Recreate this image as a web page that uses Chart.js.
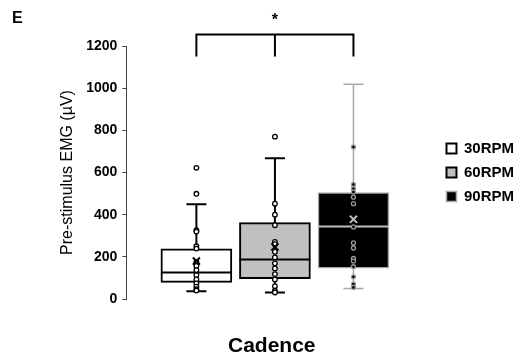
<!DOCTYPE html>
<html>
<head>
<meta charset="utf-8">
<script src="https://cdn.jsdelivr.net/npm/chart.js@4.4.1/dist/chart.umd.min.js"></script>
<style>
  html, body { margin: 0; padding: 0; background: #fff; }
  #wrap { width: 526px; height: 360px; }
</style>
</head>
<body>
<div id="wrap"><canvas id="chart" width="526" height="360"></canvas></div>
<script>
// categories (x positions 1,2,3)
const categories = ['30RPM', '60RPM', '90RPM'];
const catPos = [1, 2, 3];
const xTitle = 'Cadence';

// box plot summary values (µV)
const q1 = [79, 96, 146];
const q3 = [238, 362, 505];
const medians = [126, 187, 344];
const means = [180, 247, 378];
const whiskerMin = [37, 31, 50];
const whiskerMax = [449, 668, 1019];

// individual subjects
const points30 = [622, 499, 326, 320, 250, 239, 176, 157, 137, 113, 93, 74, 58, 46, 40];
const points60 = [770, 452, 400, 350, 271, 260, 224, 197, 169, 145, 118, 93, 61, 39, 31];
const points90 = [721, 543, 523, 507, 483, 452, 342, 266, 242, 192, 180, 153, 105, 71, 55];

// significance bracket
const bracketFrom = 1, bracketMid = 2, bracketTo = 3;
const bracketLow = 1150, bracketHigh = 1255;
const sigLabel = '*';

const yTicks = [0, 200, 400, 600, 800, 1000, 1200];

const boxFill = ['#ffffff', '#c0c0c0', '#000000'];
const boxEdge = ['#000000', '#000000', '#a8a8a8'];
const edgeWidth = [2, 2, 1.5];

Chart.defaults.font.family = "'Liberation Sans', Arial, sans-serif";
Chart.defaults.color = '#000';

const datasets = [];

// boxes
categories.forEach(function(c, i){
    datasets.push({
        type: 'bar',
        label: c,
        data: [{ x: catPos[i], y: [q1[i], q3[i]] }],
        backgroundColor: boxFill[i],
        borderColor: boxEdge[i],
        borderWidth: edgeWidth[i],
        borderSkipped: false,
        barThickness: 71,
        grouped: false,
        order: 5
    });
});

// whiskers
categories.forEach(function(c, i){
    datasets.push({
        type: 'scatter',
        label: 'whisker ' + c,
        data: [{ x: catPos[i], y: whiskerMin[i] }, { x: catPos[i], y: whiskerMax[i] }],
        showLine: true,
        borderColor: boxEdge[i],
        borderWidth: edgeWidth[i],
        pointStyle: 'line',
        pointRadius: 10,
        pointBorderColor: boxEdge[i],
        pointBorderWidth: edgeWidth[i],
        order: 6
    });
});

// medians
categories.forEach(function(c, i){
    datasets.push({
        type: 'scatter',
        label: 'median ' + c,
        data: [{ x: catPos[i], y: medians[i] }],
        pointStyle: 'line',
        pointRadius: 35.5,
        pointBorderColor: i === 2 ? '#bdbdbd' : '#000',
        pointBorderWidth: 2,
        order: 4
    });
});

// individual points
const allPoints = [points30, points60, points90];
allPoints.forEach(function(arr, i){
    datasets.push({
        type: 'scatter',
        label: 'points ' + categories[i],
        data: arr.map(function(v){ return { x: catPos[i], y: v }; }),
        pointStyle: 'circle',
        pointRadius: i === 2 ? 2 : 2.3,
        pointBackgroundColor: i === 2 ? '#000' : '#fff',
        pointBorderColor: i === 2 ? '#9a9a9a' : '#000',
        pointBorderWidth: 1.3,
        order: 2
    });
});

// means
categories.forEach(function(c, i){
    datasets.push({
        type: 'scatter',
        label: 'mean ' + c,
        data: [{ x: catPos[i], y: means[i] }],
        pointStyle: 'crossRot',
        pointRadius: 5,
        pointBorderColor: i === 2 ? '#bdbdbd' : '#000',
        pointBorderWidth: 2,
        order: 1
    });
});

// bracket
datasets.push({
    type: 'scatter',
    label: 'bracket',
    data: [{ x: bracketFrom, y: bracketLow }, { x: bracketFrom, y: bracketHigh },
           { x: bracketTo, y: bracketHigh }, { x: bracketTo, y: bracketLow }],
    showLine: true, borderColor: '#000', borderWidth: 2, pointRadius: 0, clip: false, order: 1
});
datasets.push({
    type: 'scatter',
    label: 'bracket mid',
    data: [{ x: bracketMid, y: bracketLow }, { x: bracketMid, y: bracketHigh }],
    showLine: true, borderColor: '#000', borderWidth: 2, pointRadius: 0, clip: false, order: 1
});

const extrasPlugin = {
    id: 'extras',
    afterDraw: function(chart){
        const ctx = chart.ctx;
        const xs = chart.scales.x, ys = chart.scales.y;
        ctx.save();
        ctx.fillStyle = '#000';
        ctx.textAlign = 'center';
        ctx.textBaseline = 'middle';
        ctx.font = "bold 16px 'Liberation Sans', Arial, sans-serif";
        ctx.fillText(sigLabel, xs.getPixelForValue(bracketMid), ys.getPixelForValue(bracketHigh) - 14);
        ctx.textAlign = 'left';
        ctx.fillText('E', 12, 19);
        // x axis title, centred under the groups
        ctx.textAlign = 'center';
        ctx.font = "bold 21px 'Liberation Sans', Arial, sans-serif";
        ctx.fillText(xTitle, xs.getPixelForValue(1.96), chart.chartArea.bottom + 47);
        ctx.restore();
    }
};

new Chart(document.getElementById('chart'), {
    type: 'bar',
    data: { datasets: datasets },
    options: {
        responsive: false,
        animation: false,
        events: [],
        layout: { padding: { left: 54, top: 46, right: 2, bottom: 61 } },
        plugins: {
            tooltip: { enabled: false },
            legend: {
                position: 'right',
                align: 'start',
                title: { display: true, text: '', font: { size: 10 }, padding: { top: 74, bottom: 0 } },
                labels: {
                    filter: function(item){ return item.datasetIndex < 3; },
                    boxWidth: 10,
                    boxHeight: 10,
                    padding: 9,
                    color: '#000',
                    font: { size: 15, weight: 'bold' }
                }
            }
        },
        scales: {
            x: {
                type: 'linear',
                offset: false,
                min: 0.108,
                max: 4.07,
                display: false
            },
            y: {
                min: 0,
                max: 1200,
                afterBuildTicks: function(scale){
                    scale.ticks = yTicks.map(function(v){ return { value: v }; });
                },
                grid: { display: true, drawOnChartArea: false, drawTicks: true, tickLength: 4, color: '#444' },
                border: { display: true, color: '#444', width: 1 },
                ticks: {
                    padding: 5,
                    color: '#000',
                    font: { size: 14, weight: 'bold' },
                    callback: function(v){ return String(v); }
                },
                title: {
                    display: true,
                    text: 'Pre-stimulus EMG (µV)',
                    color: '#000',
                    font: { size: 16 },
                    padding: { top: 4, bottom: 4 }
                }
            }
        }
    },
    plugins: [extrasPlugin]
});
</script>
</body>
</html>
